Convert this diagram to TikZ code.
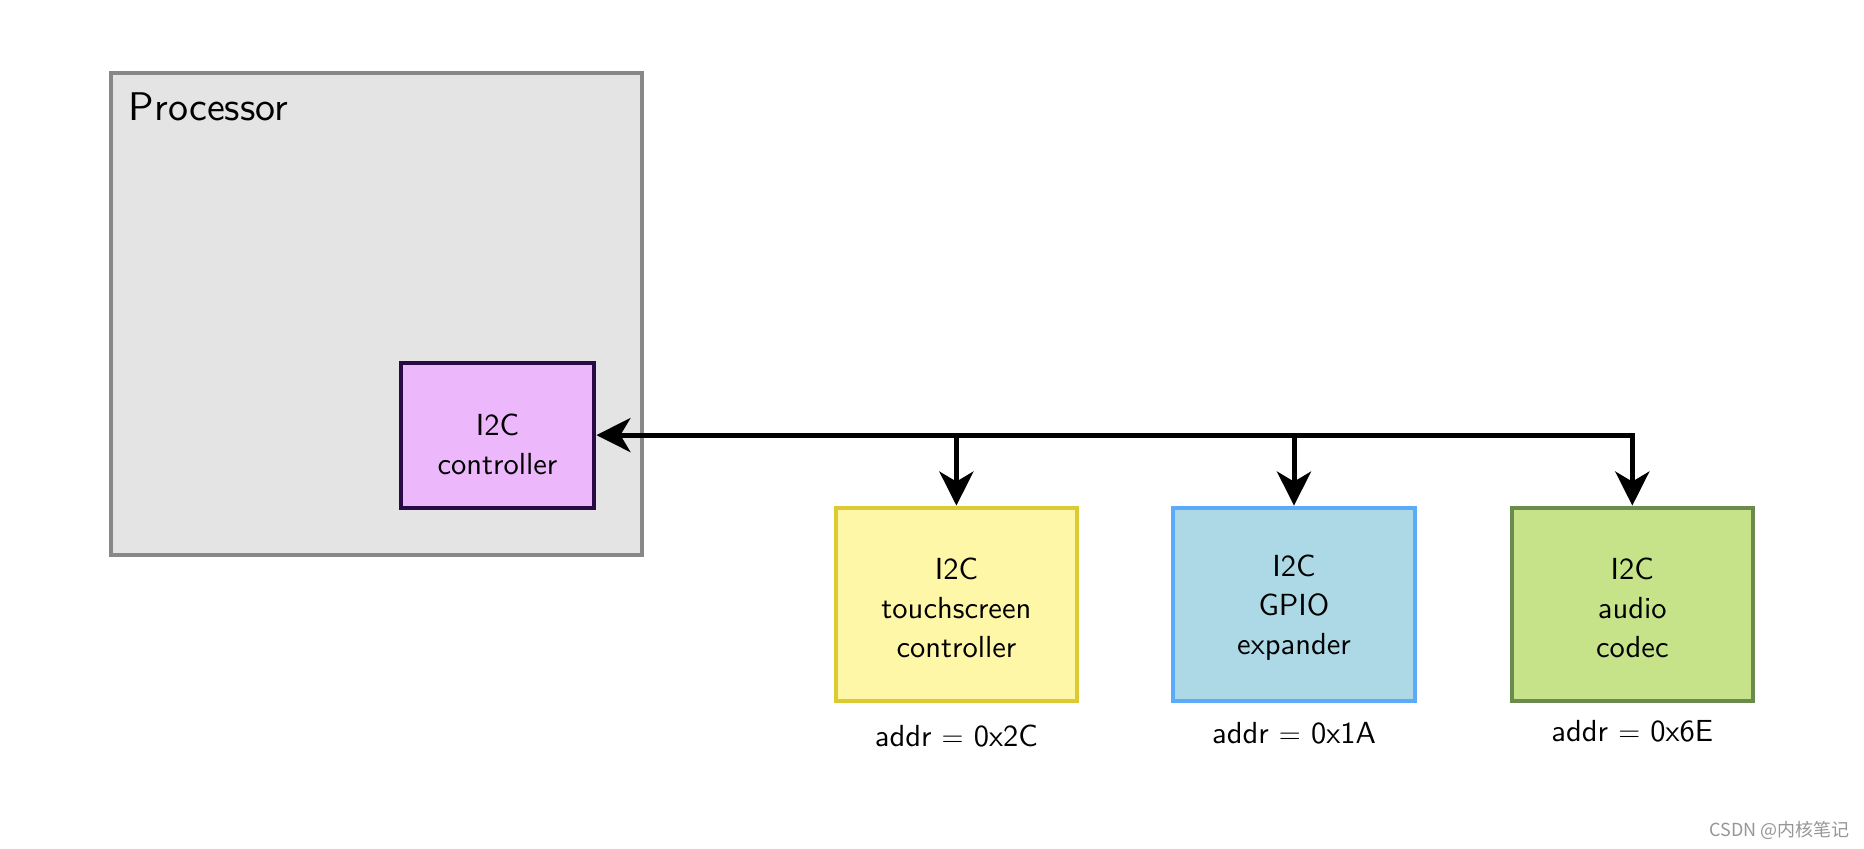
\documentclass[tikz,border=0pt]{standalone}
\usepackage{fontspec}
\newfontfamily\cjk{Noto Sans CJK SC}
\newfontfamily\lmsten{lmsans10-regular.otf}
\usetikzlibrary{arrows.meta}
\definecolor{procfill}{RGB}{228,228,228}
\definecolor{procdraw}{RGB}{136,136,136}
\definecolor{ctrlfill}{RGB}{237,184,251}
\definecolor{ctrldraw}{RGB}{42,10,69}
\definecolor{touchfill}{RGB}{255,247,168}
\definecolor{touchdraw}{RGB}{219,202,50}
\definecolor{gpiofill}{RGB}{173,216,230}
\definecolor{gpiodraw}{RGB}{92,170,250}
\definecolor{audiofill}{RGB}{198,227,138}
\definecolor{audiodraw}{RGB}{107,139,78}
\definecolor{wmark}{RGB}{150,150,150}
\begin{document}
\begin{tikzpicture}[x=0.5pt,y=-0.5pt,
  every node/.style={font=\lmsten\fontsize{15.25}{19.5}\selectfont},
  box/.style={draw, line width=2pt, align=center, inner sep=0pt},
  devbox/.style={box, minimum width=120.65pt, minimum height=96.9pt},
  txt/.style={align=center, inner sep=0pt},
  bus/.style={line width=2.5pt, draw=black}]
\useasboundingbox (0,0) rectangle (1864,849);
\node[box, fill=procfill, draw=procdraw, minimum width=265.7pt, minimum height=241.35pt] (proc) at (376.3,313.9) {};
\node[anchor=base west, inner sep=0pt, font=\lmsten\fontsize{20}{24}\selectfont] (proclabel) at (128.5,121) {Processor};
\node[box, fill=ctrlfill, draw=ctrldraw, minimum width=96.9pt, minimum height=72.5pt] (ctrl) at (497.5,435.1) {};
\node[txt] (ctrltext) at ([yshift=-4.5pt]ctrl.center) {I2C\\controller};
\node[devbox, fill=touchfill, draw=touchdraw] (touch) at (956.4,604.5) {};
\node[devbox, fill=gpiofill, draw=gpiodraw] (gpio) at (1294,604.5) {};
\node[devbox, fill=audiofill, draw=audiodraw] (audio) at (1632.3,604.5) {};
\node[txt] (touchtext) at ([yshift=-1.8pt]touch.center) {I2C\\touchscreen\\controller};
\node[txt] (gpiotext) at ([yshift=-1.8pt]gpio.center) {I2C\\GPIO\\expander};
\node[txt] (audiotext) at ([yshift=-1.8pt]audio.center) {I2C\\audio\\codec};
\node (taddr) at (956.4,735.9) {addr $=$ 0x2C};
\node (gaddr) at (1294,733.5) {addr $=$ 0x1A};
\node (aaddr) at (1632.3,731.1) {addr $=$ 0x6E};
\coordinate (tj) at (ctrl.east -| touch.north);
\coordinate (gj) at (ctrl.east -| gpio.north);
\coordinate (aj) at (ctrl.east -| audio.north);
\draw[bus, {Stealth[length=17pt,width=17pt,inset=5pt]}-{Stealth[length=17pt,width=17pt,inset=5pt]}] (ctrl.east) -- (aj) -- (audio.north);
\draw[bus, -{Stealth[length=17pt,width=17pt,inset=5pt]}] (tj) -- (touch.north);
\draw[bus, -{Stealth[length=17pt,width=17pt,inset=5pt]}] (gj) -- (gpio.north);
\node[anchor=base east, inner sep=0pt, text=wmark, font=\cjk\fontsize{9}{10}\selectfont] (wm) at (1850,836) {CSDN @内核笔记};
\end{tikzpicture}
\end{document}
